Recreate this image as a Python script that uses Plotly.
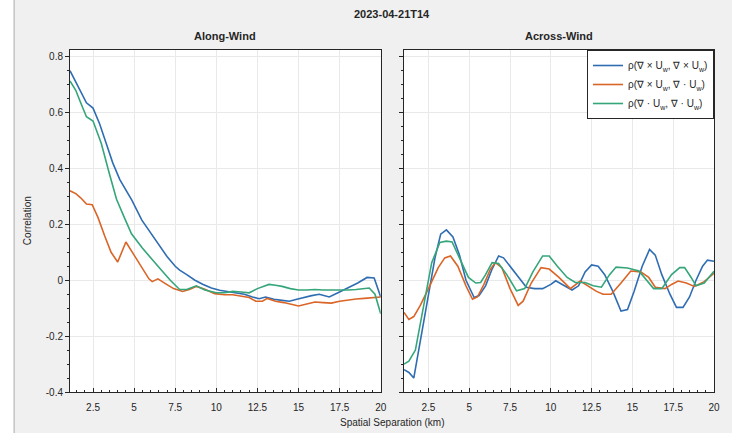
"""Spatial correlation of curl/divergence, along- and across-wind."""

import plotly.graph_objects as go

TITLE = "2023-04-21T14"
PANELS = ["Along-Wind", "Across-Wind"]
SERIES_NAMES = [
    "ρ(∇ × U<sub>w</sub>, ∇ × U<sub>w</sub>)",
    "ρ(∇ × U<sub>w</sub>, ∇ · U<sub>w</sub>)",
    "ρ(∇ · U<sub>w</sub>, ∇ · U<sub>w</sub>)",
]
COLORS = ["#2F6DB3", "#DA6527", "#35A57A"]

X_TICKS = [2.5, 5, 7.5, 10, 12.5, 15, 17.5, 20]
X_TICKTEXT = ["2.5", "5", "7.5", "10", "12.5", "15", "17.5", "20"]
Y_TICKS = [-0.4, -0.2, 0, 0.2, 0.4, 0.6, 0.8]
Y_TICKTEXT = ["-0.4", "-0.2", "0", "0.2", "0.4", "0.6", "0.8"]

# along-wind
along_curl_x = [1.1, 1.4, 1.75, 2.1, 2.5, 2.9, 3.3, 3.7, 4.13, 4.5, 4.86, 5.47, 6.0, 6.5, 7.0, 7.5,
                7.77, 8.2, 8.7, 9.2, 9.7, 10.2, 10.7, 11.2, 11.7, 12.2, 12.6, 13.0, 13.5, 14.0, 14.44,
                14.9, 15.4, 15.8, 16.26, 16.87, 17.4, 18.08, 18.6, 19.17, 19.6, 20.0]
along_curl_y = [0.75, 0.715, 0.67, 0.635, 0.616, 0.56, 0.49, 0.42, 0.36, 0.325, 0.287, 0.215, 0.17,
                0.125, 0.085, 0.05, 0.036, 0.02, 0.0, -0.015, -0.028, -0.036, -0.04, -0.045, -0.05,
                -0.06, -0.066, -0.06, -0.068, -0.072, -0.075, -0.068, -0.06, -0.055, -0.05, -0.06,
                -0.045, -0.025, -0.01, 0.01, 0.008, -0.06]

along_cross_x = [1.1, 1.45, 1.75, 2.1, 2.45, 2.8, 3.2, 3.6, 4.0, 4.5, 5.0, 5.5, 5.9, 6.1, 6.45, 6.9,
                 7.4, 7.95, 8.4, 8.8, 9.3, 9.9, 10.5, 11.0, 11.5, 12.0, 12.4, 12.8, 13.1, 13.6, 14.1,
                 14.6, 15.0, 15.5, 16.0, 16.5, 17.0, 17.5, 18.0, 18.5, 19.0, 19.5, 20.0]
along_cross_y = [0.32, 0.31, 0.295, 0.273, 0.27, 0.225, 0.16, 0.1, 0.065, 0.137, 0.09, 0.045, 0.005,
                 -0.005, 0.005, -0.012, -0.03, -0.04, -0.032, -0.022, -0.032, -0.048, -0.052, -0.052,
                 -0.058, -0.062, -0.075, -0.075, -0.065, -0.075, -0.08, -0.088, -0.092, -0.085,
                 -0.078, -0.08, -0.082, -0.075, -0.07, -0.067, -0.065, -0.063, -0.06]

along_div_x = [1.1, 1.45, 1.75, 2.1, 2.5, 3.0, 3.5, 3.93, 4.4, 4.84, 5.5, 6.07, 6.6, 7.2, 7.77, 8.2,
               8.78, 9.3, 10.0, 10.5, 11.0, 11.5, 12.0, 12.5, 13.2, 13.6, 14.0, 14.5, 15.0, 15.5,
               16.0, 16.5, 17.0, 17.5, 18.0, 18.5, 19.0, 19.3, 19.65, 20.0]
along_div_y = [0.713, 0.68, 0.635, 0.585, 0.57, 0.49, 0.38, 0.29, 0.225, 0.166, 0.115, 0.078, 0.04,
               0.0, -0.033, -0.033, -0.02, -0.035, -0.045, -0.045, -0.04, -0.042, -0.045, -0.03,
               -0.015, -0.018, -0.022, -0.03, -0.035, -0.035, -0.033, -0.035, -0.035, -0.037,
               -0.035, -0.033, -0.03, -0.028, -0.05, -0.12]

# across-wind
across_curl_x = [1.0, 1.3, 1.6, 2.0, 2.5, 2.9, 3.25, 3.6, 4.0, 4.4, 4.8, 5.3, 5.6, 6.0, 6.4, 6.8, 7.1,
                 7.5, 8.0, 8.5, 9.0, 9.5, 10.0, 10.3, 10.7, 11.3, 11.7, 12.1, 12.5, 12.9, 13.3, 13.8,
                 14.3, 14.7, 15.1, 15.6, 16.05, 16.4, 16.8, 17.3, 17.7, 18.1, 18.5, 18.9, 19.3, 19.6,
                 20.0]
across_curl_y = [-0.32, -0.33, -0.35, -0.22, -0.06, 0.08, 0.165, 0.18, 0.155, 0.09, 0.0, -0.062,
                 -0.055, -0.02, 0.04, 0.087, 0.08, 0.05, 0.01, -0.025, -0.03, -0.03, -0.015, -0.002,
                 -0.015, -0.035, -0.02, 0.03, 0.055, 0.05, 0.02, -0.04, -0.11, -0.105, -0.04, 0.05,
                 0.11, 0.09, 0.02, -0.05, -0.097, -0.097, -0.06, 0.0, 0.05, 0.072, 0.068]

across_cross_x = [1.0, 1.3, 1.6, 2.0, 2.5, 3.1, 3.5, 3.85, 4.3, 4.8, 5.2, 5.5, 5.9, 6.3, 6.6, 7.0,
                  7.5, 8.0, 8.3, 8.8, 9.4, 9.9, 10.5, 11.2, 11.8, 12.3, 12.8, 13.2, 13.7, 14.3, 14.9,
                  15.5, 16.0, 16.4, 17.0, 17.4, 17.8, 18.3, 18.8, 19.4, 20.0]
across_cross_y = [-0.115, -0.14, -0.13, -0.09, -0.03, 0.045, 0.08, 0.087, 0.05, -0.02, -0.068, -0.06,
                  -0.015, 0.04, 0.063, 0.045, -0.03, -0.09, -0.075, -0.01, 0.045, 0.04, 0.01, -0.03,
                  -0.003, -0.02, -0.04, -0.05, -0.05, -0.01, 0.033, 0.03, 0.01, -0.025, -0.03, -0.015,
                  -0.003, -0.01, -0.022, -0.005, 0.025]

across_div_x = [1.0, 1.3, 1.7, 2.2, 2.7, 3.2, 3.6, 3.95, 4.5, 4.95, 5.4, 5.7, 6.0, 6.4, 6.8, 7.3, 7.9,
                8.4, 8.9, 9.5, 9.9, 10.4, 11.0, 11.5, 12.1, 12.6, 13.1, 13.6, 14.0, 14.7, 15.4, 15.9,
                16.3, 16.8, 17.4, 17.9, 18.2, 18.6, 18.9, 19.4, 20.0]
across_div_y = [-0.30, -0.29, -0.25, -0.1, 0.063, 0.135, 0.14, 0.137, 0.07, 0.01, -0.01, -0.008, 0.02,
                0.063, 0.06, 0.02, -0.038, -0.03, 0.03, 0.087, 0.087, 0.05, 0.01, -0.008, -0.008,
                -0.02, -0.025, 0.02, 0.047, 0.044, 0.033, 0.0, -0.03, -0.03, 0.02, 0.045, 0.045, 0.01,
                -0.02, -0.01, 0.032]

panel_data = [
    [(along_curl_x, along_curl_y), (along_cross_x, along_cross_y), (along_div_x, along_div_y)],
    [(across_curl_x, across_curl_y), (across_cross_x, across_cross_y), (across_div_x, across_div_y)],
]

INK = "#262626"
FONT = "Liberation Sans, Arial, sans-serif"

fig = go.Figure()
for p, series in enumerate(panel_data):
    xa = "x" if p == 0 else "x2"
    ya = "y" if p == 0 else "y2"
    for i, (xs, ys) in enumerate(series):
        fig.add_trace(go.Scatter(
            x=xs, y=ys, mode="lines", name=SERIES_NAMES[i],
            line=dict(color=COLORS[i], width=1.6),
            xaxis=xa, yaxis=ya, showlegend=(p == 1),
        ))

axis_common = dict(
    showline=True, mirror=True, linecolor=INK, linewidth=1,
    showgrid=True, gridcolor="#e9e9e9", gridwidth=1, zeroline=False,
    tickfont=dict(size=10, color=INK), tickcolor=INK,
)
xaxis_common = dict(
    axis_common, ticks="inside", ticklen=4, tickvals=X_TICKS, ticktext=X_TICKTEXT,
    ticklabelstandoff=6,
    minor=dict(ticks="inside", ticklen=2, dtick=0.5, tickcolor=INK, showgrid=False),
)
yaxis_common = dict(
    axis_common, ticks="outside", ticklen=4, tickvals=Y_TICKS, range=[-0.4, 0.824],
    minor=dict(ticks="outside", ticklen=2, dtick=0.05, tickcolor=INK, showgrid=False),
)

fig.update_layout(
    width=732, height=433,
    margin=dict(l=70, r=16, t=50, b=41),
    paper_bgcolor="#f0f0f0", plot_bgcolor="white",
    font=dict(family=FONT, size=10, color=INK),
    xaxis=dict(xaxis_common, domain=[0, 0.4825], range=[1.1, 20], anchor="y"),
    xaxis2=dict(xaxis_common, domain=[0.5186, 1], range=[1.0, 20], anchor="y2"),
    yaxis=dict(yaxis_common, ticktext=Y_TICKTEXT, anchor="x"),
    yaxis2=dict(yaxis_common, showticklabels=False, anchor="x2"),
    legend=dict(
        x=1, y=1, xanchor="right", yanchor="top", bgcolor="white",
        bordercolor=INK, borderwidth=1, font=dict(size=10, color=INK),
        tracegroupgap=0, itemwidth=30,
    ),
    showlegend=True,
)

# white strip + edge at the far left, like the screenshot
fig.add_shape(type="rect", xref="paper", yref="paper", x0=-0.11, x1=-0.0867, y0=-0.13, y1=1.16,
              fillcolor="white", line_width=0, layer="below")
fig.add_shape(type="line", xref="paper", yref="paper", x0=-0.0867, x1=-0.0867, y0=-0.13, y1=1.16,
              line=dict(color="#c4c4c4", width=1.5))

# label centres in px from the plot edges (plot area 342 px tall)
annots = [
    dict(text=f"<b>{TITLE}</b>", x=0.5, y=1 + 36 / 342, font=dict(size=11)),
    dict(text=f"<b>{PANELS[0]}</b>", x=0.4825 / 2, y=1 + 14 / 342, font=dict(size=11)),
    dict(text=f"<b>{PANELS[1]}</b>", x=(0.5186 + 1) / 2, y=1 + 14 / 342, font=dict(size=11)),
    dict(text="Spatial Separation (km)", x=0.5, y=-31 / 342, font=dict(size=10)),
]
for a in annots:
    fig.add_annotation(xref="paper", yref="paper", showarrow=False, xanchor="center",
                       yanchor="middle", **a)
fig.add_annotation(text="Correlation", xref="paper", yref="paper", x=-43 / 646, y=0.5,
                   textangle=-90, showarrow=False, xanchor="center", yanchor="middle",
                   font=dict(size=10))

# page body margin would push the 732x433 figure off the window
fig.write_html("out.html", config={"displayModeBar": False},
               post_script="document.body.style.margin='0';"
                           "document.body.style.overflow='hidden';")
